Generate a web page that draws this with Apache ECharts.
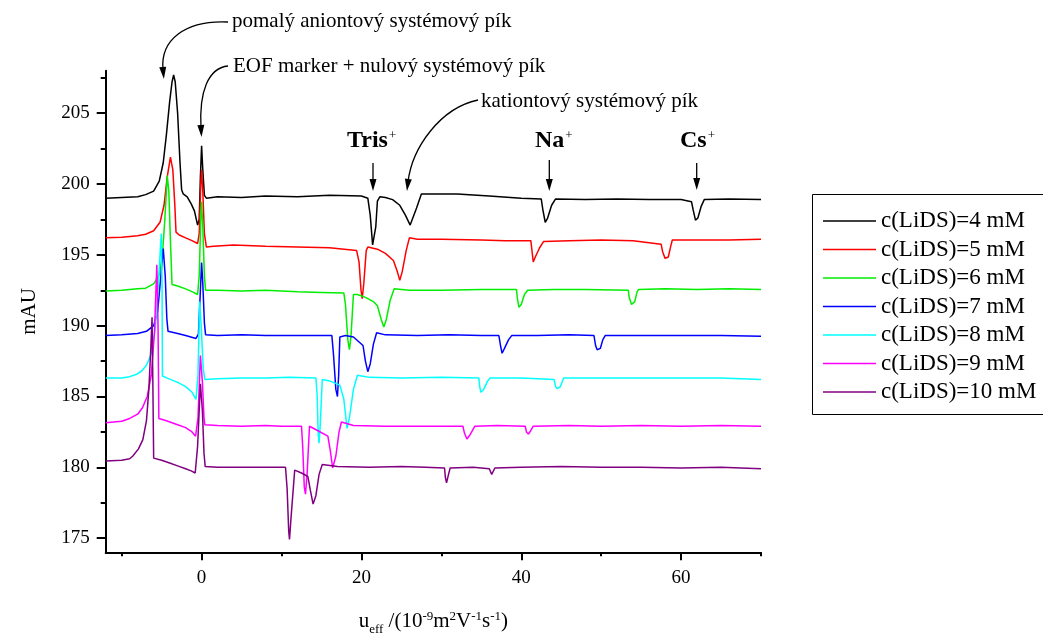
<!DOCTYPE html>
<html><head><meta charset="utf-8">
<script src="https://cdn.jsdelivr.net/npm/echarts@6/dist/echarts.min.js"></script>
<style>html,body{margin:0;padding:0;background:#fff}#c{width:1043px;height:633px}</style>
</head><body><div id="c"></div>
<script>
// ---------- data ----------
const seriesNames = ['c(LiDS)=4 mM','c(LiDS)=5 mM','c(LiDS)=6 mM','c(LiDS)=7 mM','c(LiDS)=8 mM','c(LiDS)=9 mM','c(LiDS)=10 mM'];
const xLabelValues = [0, 20, 40, 60];
const xMinorValues = [-10, 10, 30, 50, 70];
const yLabelValues = [175, 180, 185, 190, 195, 200, 205];
const yMinorValues = [177.5, 182.5, 187.5, 192.5, 197.5, 202.5, 207.5];

const lids4 = [[-12,199.0],[-10,199.05],[-8,199.1],[-7,199.25],[-6,199.5],[-5.3,200.2],[-4.8,201.5],[-4.4,203.5],[-4.0,205.8],[-3.7,207.2],[-3.5,207.7],[-3.3,207.2],[-3.0,205],[-2.7,201.5],[-2.5,199.6],[-2.3,199.3],[-1.8,199.1],[-1.3,198.6],[-0.9,198.1],[-0.5,197.1],[-0.3,197.5],[-0.15,200.5],[0,202.7],[0.15,201],[0.35,199.2],[0.6,199.0],[2,199.1],[5,199.05],[8,199.15],[12,199.1],[16,199.2],[20,199.15],[20.8,199.0],[21.1,197.8],[21.4,195.7],[21.6,195.6],[21.8,197.0],[22.0,198.8],[22.3,199.1],[23.0,199.05],[23.9,198.9],[24.8,198.5],[25.5,197.8],[26.1,197.1],[26.3,197.2],[26.9,198.3],[27.5,199.3],[28.5,199.3],[32,199.3],[36,199.15],[40,199.0],[42.5,198.95],[42.7,198.2],[43.0,197.3],[43.3,197.6],[43.8,198.5],[44.3,198.95],[48,198.9],[52,198.95],[56,198.9],[60,198.9],[61.3,198.75],[61.5,198.2],[61.8,197.45],[62.1,197.6],[62.5,198.4],[62.9,198.9],[66,198.95],[70,198.9]];
const lids5 = [[-12,196.2],[-10,196.25],[-8,196.35],[-7,196.45],[-6,196.7],[-5.2,197.3],[-4.7,198.5],[-4.3,200.5],[-3.9,201.9],[-3.6,201.0],[-3.35,198.5],[-3.2,196.6],[-2.8,196.4],[-2,196.2],[-1.2,196.0],[-0.5,195.8],[-0.3,196.5],[-0.1,200],[0,201.0],[0.15,199.5],[0.35,196.5],[0.6,195.55],[1.5,195.6],[4,195.7],[8,195.6],[12,195.55],[16,195.5],[19.4,195.3],[19.7,194.5],[19.95,192.5],[20.1,191.9],[20.3,193.0],[20.6,195.3],[20.8,195.55],[22,195.4],[23,195.1],[24.0,194.6],[24.5,193.8],[24.8,193.2],[25.1,193.8],[25.6,195.3],[26.0,196.2],[27,196.1],[30,196.1],[35,196.05],[38,196.0],[41.2,196.0],[41.3,195.5],[41.5,194.5],[41.8,194.9],[42.3,195.5],[42.8,195.95],[46,196.0],[50,196.05],[54,196.0],[57.5,195.75],[57.7,195.2],[58.0,194.75],[58.4,194.85],[58.7,195.6],[58.9,196.05],[62,196.05],[66,196.05],[70,196.1]];
const lids6 = [[-12,192.45],[-10,192.5],[-8,192.6],[-7,192.65],[-6,192.95],[-5.3,193.6],[-4.9,195.0],[-4.6,197.5],[-4.3,200.6],[-4.1,199.5],[-3.9,196],[-3.7,192.9],[-3,192.8],[-2,192.6],[-1.2,192.4],[-0.5,192.2],[-0.3,193.5],[-0.1,197.5],[0,198.75],[0.15,197],[0.35,193.5],[0.5,192.5],[2,192.5],[5,192.45],[8,192.5],[12,192.4],[15,192.35],[17.8,192.3],[18.0,191.5],[18.3,189.0],[18.5,188.3],[18.7,189.3],[19.0,192.2],[19.5,192.2],[20.5,192.0],[21.5,191.7],[22.0,191.4],[22.5,190.4],[22.8,189.9],[23.1,190.4],[23.6,191.8],[24.1,192.6],[26,192.5],[30,192.5],[35,192.55],[39.4,192.55],[39.5,192.0],[39.7,191.3],[40.0,191.5],[40.4,192.2],[40.8,192.5],[44,192.55],[48,192.55],[53.4,192.5],[53.5,192.0],[53.8,191.5],[54.2,191.7],[54.5,192.4],[54.7,192.55],[58,192.6],[62,192.55],[66,192.6],[70,192.55]];
const lids7 = [[-12,189.3],[-10,189.35],[-8,189.45],[-6.9,189.6],[-6.0,190.0],[-5.5,191.0],[-5.1,193.5],[-4.8,195.45],[-4.55,193.5],[-4.35,190.5],[-4.2,189.6],[-3,189.45],[-2,189.3],[-0.7,189.1],[-0.4,189.4],[-0.15,192.5],[0,194.45],[0.15,193],[0.35,190.2],[0.5,189.35],[2,189.3],[5,189.35],[8,189.3],[12,189.3],[16.3,189.3],[16.5,188],[16.8,185.5],[17.0,185.0],[17.15,186.5],[17.3,189.2],[18,189.3],[19,189.2],[20.2,188.6],[20.5,187.5],[20.8,186.75],[21.1,187.3],[21.5,188.7],[21.9,189.5],[23,189.35],[27,189.3],[31,189.35],[35,189.3],[37.2,189.3],[37.4,188.6],[37.6,188.05],[37.9,188.4],[38.4,189.0],[38.8,189.3],[42,189.3],[46,189.35],[49.1,189.3],[49.3,188.6],[49.5,188.3],[49.9,188.4],[50.2,189.0],[50.5,189.3],[55,189.3],[60,189.3],[65,189.3],[70,189.25]];
const lids8 = [[-12,186.3],[-10,186.3],[-9,186.4],[-8.2,186.55],[-7.5,186.8],[-6.9,187.2],[-6.3,188.0],[-5.8,189.8],[-5.4,193.0],[-5.05,196.5],[-4.95,193],[-4.9,186.45],[-4.3,186.3],[-3,186.0],[-2,185.7],[-1.2,185.3],[-0.7,184.8],[-0.45,186.5],[-0.25,191.7],[-0.05,190],[0.2,187],[0.4,186.2],[2,186.25],[5,186.3],[8,186.3],[11,186.35],[14.3,186.3],[14.45,185.2],[14.6,182.3],[14.7,181.7],[14.85,183.0],[15.1,186.2],[16,186.1],[17.3,185.8],[17.8,184.8],[18.2,182.75],[18.5,183.5],[19.0,185.5],[19.5,186.5],[21,186.35],[25,186.3],[30,186.35],[34.7,186.3],[34.8,185.7],[34.95,185.3],[35.3,185.5],[35.8,186.1],[36.1,186.3],[40,186.3],[44.1,186.2],[44.3,185.7],[44.5,185.55],[44.9,185.7],[45.3,186.3],[50,186.3],[55,186.3],[60,186.3],[65,186.3],[70,186.2]];
const lids9 = [[-12,183.15],[-10,183.25],[-9,183.45],[-8,183.75],[-7.4,184.2],[-6.8,185.0],[-6.3,186.5],[-5.9,189.5],[-5.6,194.3],[-5.45,190],[-5.35,183.45],[-4.5,183.3],[-3,183.0],[-2,182.8],[-1.2,182.5],[-0.75,182.2],[-0.45,183.5],[-0.15,187.9],[0.1,186],[0.3,183.5],[0.4,183.0],[2,182.95],[5,182.9],[8,182.95],[10,182.9],[12.5,182.9],[12.65,181.5],[12.85,178.6],[13.0,178.1],[13.2,179.5],[13.5,182.9],[14.5,182.6],[15.8,182.2],[16.1,181.2],[16.4,179.95],[16.8,180.8],[17.2,182.5],[17.5,183.2],[19,182.95],[23,182.9],[28,182.9],[32.7,182.9],[32.9,182.4],[33.2,182.0],[33.6,182.3],[34.2,182.9],[37,182.95],[40.5,182.9],[40.65,182.5],[40.9,182.35],[41.2,182.6],[41.5,182.9],[46,182.95],[50,182.9],[55,182.95],[60,182.9],[65,182.95],[70,182.9]];
const lids10 = [[-12,180.45],[-10,180.5],[-9,180.6],[-8.6,180.8],[-7.9,181.3],[-7.35,181.95],[-6.9,183.3],[-6.6,185.5],[-6.35,188.5],[-6.2,190.6],[-6.1,186],[-6.0,180.65],[-5,180.5],[-4,180.3],[-3,180.1],[-2,179.9],[-1.3,179.75],[-0.8,179.6],[-0.5,181.5],[-0.15,185.9],[0.1,184],[0.3,181],[0.45,180.05],[2,180.0],[5,180.0],[8,180.0],[10.5,180.0],[10.7,178.5],[10.9,175.5],[11.0,174.9],[11.2,176.5],[11.65,179.8],[12.5,179.6],[13.3,179.35],[13.6,178.4],[13.95,177.4],[14.3,178.0],[14.7,179.5],[15.1,180.2],[17,180.05],[21,180.0],[25,180.05],[28,180.0],[30.4,179.95],[30.5,179.3],[30.65,178.9],[30.9,179.5],[31.1,179.95],[34,180.0],[36.0,179.9],[36.3,179.5],[36.7,179.95],[40,180.0],[45,180.05],[50,180.0],[55,180.0],[60,179.95],[65,180.0],[70,179.9]];

const traces = [lids4, lids5, lids6, lids7, lids8, lids9, lids10];
const colors = ['#000000','#ff0000','#00ee00','#0000ff','#00ffff','#ff00ff','#800080'];

// ---------- chart ----------
const FONT = 'Liberation Serif, Times New Roman, serif';
const chart = echarts.init(document.getElementById('c'), null, {renderer:'canvas'});

function arrow(x1,y1,x2,y2,cp){
  const els = [];
  let fx, fy;
  if (cp) {
    els.push({type:'bezierCurve', z:100, shape:{x1:x1,y1:y1,cpx1:cp[0],cpy1:cp[1],cpx2:cp[2],cpy2:cp[3],x2:x2,y2:y2}, style:{stroke:'#000',lineWidth:1.3,fill:null}});
    fx = cp[2]; fy = cp[3];
  } else {
    els.push({type:'line', z:100, shape:{x1:x1,y1:y1,x2:x2,y2:y2}, style:{stroke:'#000',lineWidth:1.3}});
    fx = x1; fy = y1;
  }
  let dx = x2-fx, dy = y2-fy; const L = Math.hypot(dx,dy); dx/=L; dy/=L;
  const tipX = x2 + dx*9, tipY = y2 + dy*9;
  const bx = tipX - dx*12, by = tipY - dy*12;
  els.push({type:'polygon', z:100, shape:{points:[[tipX,tipY],[bx - dy*3.5, by + dx*3.5],[bx + dy*3.5, by - dx*3.5]]}, style:{fill:'#000'}});
  return els;
}
function txt(x,y,t,size){
  return {type:'text', z:100, x:x, y:y, style:{text:t, fill:'#000', fontSize:size, fontFamily:FONT, verticalAlign:'middle', align:'left'}};
}
function ion(x,y,t){
  return {type:'text', z:100, x:x, y:y, style:{text:'{b|'+t+'}{s|+}', verticalAlign:'bottom', align:'left',
    rich:{b:{fontSize:24, fontWeight:'bold', fontFamily:FONT, fill:'#000'}, s:{fontSize:13, fontFamily:FONT, fill:'#000', verticalAlign:'top', padding:[0,0,10,1]}}}};
}

const graphics = [].concat(
  [txt(232,21,'pomalý aniontový systémový pík',21),
   txt(233,66,'EOF marker + nulový systémový pík',21),
   txt(481,101,'kationtový systémový pík',21),
   ion(347,153,'Tris'), ion(535,153,'Na'), ion(680,153,'Cs')],
  arrow(228,22,163,70,[185,20,160,40]),
  arrow(228,66,201,128,[208,68,199,92]),
  arrow(478,100,408,182,[440,108,412,148]),
  arrow(373,163,373,182),
  arrow(549.3,160,549.3,182),
  arrow(696.7,163,696.7,181)
);

const axisLineStyle = {show:true, onZero:false, lineStyle:{color:'#000', width:2}};

const option = {
  animation:false,
  backgroundColor:'#fff',
  grid:{left:105.7, right:282, top:70.7, bottom:80.7, containLabel:false, outerBoundsMode:'none'},
  legend:{
    orient:'vertical', left:812.5, top:194.5,
    padding:[15,40,11,10.5], borderColor:'#000', borderWidth:1,
    icon:'rect', itemWidth:53, itemHeight:1.5, itemGap:5.5,
    textStyle:{fontSize:23, fontFamily:FONT, color:'#000', lineHeight:22},
    data:seriesNames
  },
  xAxis:[
    {type:'value', min:-12, max:70, gridIndex:0, position:'bottom',
     axisLine:axisLineStyle, splitLine:{show:false},
     axisTick:{show:true, length:8, lineStyle:{color:'#000', width:2}, customValues:xLabelValues},
     axisLabel:{show:true, fontSize:19, fontFamily:FONT, color:'#000', margin:16, customValues:xLabelValues},
     name:'{a|u}{sub|eff}{a| /(10}{sup|-9}{a|m}{sup|2}{a|V}{sup|-1}{a|s}{sup|-1}{a|)}',
     nameLocation:'middle', nameGap:54,
     nameTextStyle:{rich:{
       a:{fontSize:21, fontFamily:FONT, color:'#000', lineHeight:30, verticalAlign:'middle'},
       sub:{fontSize:13, fontFamily:FONT, color:'#000', lineHeight:30, verticalAlign:'bottom'},
       sup:{fontSize:13, fontFamily:FONT, color:'#000', lineHeight:30, verticalAlign:'top', padding:[4,0,0,0]}
     }}},
    {type:'value', min:-12, max:70, gridIndex:0, position:'bottom',
     axisLine:{show:false, onZero:false}, splitLine:{show:false},
     axisTick:{show:true, length:4, lineStyle:{color:'#000', width:2}, customValues:xMinorValues},
     axisLabel:{show:false}}
  ],
  yAxis:[
    {type:'value', min:174, max:208, position:'left',
     axisLine:axisLineStyle, splitLine:{show:false},
     axisTick:{show:true, length:9, lineStyle:{color:'#000', width:2}, customValues:yLabelValues},
     axisLabel:{show:true, fontSize:19, fontFamily:FONT, color:'#000', margin:16, customValues:yLabelValues},
     name:'mAU', nameLocation:'middle', nameGap:66,
     nameTextStyle:{fontSize:21, fontFamily:FONT, color:'#000'}},
    {type:'value', min:174, max:208, position:'left',
     axisLine:{show:false, onZero:false}, splitLine:{show:false},
     axisTick:{show:true, length:5, lineStyle:{color:'#000', width:2}, customValues:yMinorValues},
     axisLabel:{show:false}}
  ],
  series: traces.map((d,i)=>({
    name:seriesNames[i], type:'line', data:d, xAxisIndex:0, yAxisIndex:0,
    symbol:'none', showSymbol:false, smooth:false,
    lineStyle:{color:colors[i], width:1.5}, itemStyle:{color:colors[i]},
    emphasis:{disabled:true}
  })),
  graphic:graphics
};
chart.setOption(option);
</script>
</body></html>
